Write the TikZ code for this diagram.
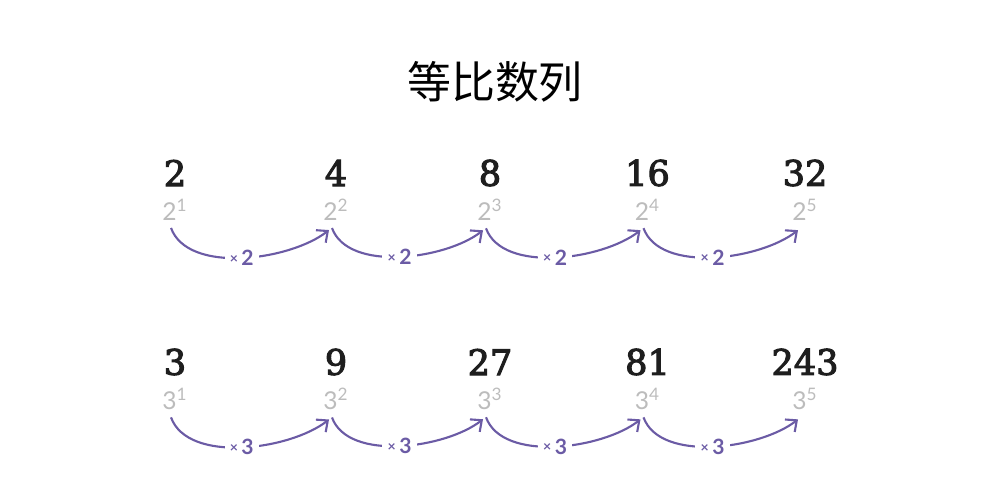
\documentclass[tikz,border=0pt]{standalone}
\usepackage{fontspec}
\setmainfont{Liberation Serif}
\setsansfont{Lato}
\newfontfamily\cjk{Noto Sans CJK SC}
\newfontfamily\numfont[FakeBold=3]{DejaVu Serif}
\usepackage{tikz}
\usetikzlibrary{positioning, arrows.meta}
\definecolor{numdark}{HTML}{1E1E1E}
\definecolor{expgray}{HTML}{BCBCBC}
\definecolor{hoppurple}{HTML}{6B5BA5}

\begin{document}
\begin{tikzpicture}[
  num/.style={inner sep=0pt, font=\numfont\fontsize{20}{24}\selectfont, text=numdark},
  expo/.style={inner sep=0pt, font=\sffamily\fontsize{14}{16}\selectfont, text=expgray},
  mult/.style={fill=white, inner sep=3pt, font=\sffamily\bfseries\fontsize{12}{14}\selectfont, text=hoppurple},
  hop/.style={-{Straight Barb[length=5pt, width=9pt]}, hoppurple, line width=1.2pt, looseness=0.8}
]
  \useasboundingbox (0,0) rectangle (19.86,9.68);

  \node[font=\cjk\fontsize{25}{28}\selectfont] (title) at (9.9,8.05) {等比数列};

  % powers of 2
  \node[num] (a1) at (3.5,6.22) {2};
  \node[num] (a2) at (6.72,6.22) {4};
  \node[num] (a3) at (9.8,6.22) {8};
  \node[num] (a4) at (12.95,6.22) {16};
  \node[num] (a5) at (16.1,6.22) {32};

  \node[expo, below=7pt of a1] (p1) {2\textsuperscript{1}};
  \node[expo, below=7pt of a2] (p2) {2\textsuperscript{2}};
  \node[expo, below=7pt of a3] (p3) {2\textsuperscript{3}};
  \node[expo, below=7pt of a4] (p4) {2\textsuperscript{4}};
  \node[expo, below=7pt of a5] (p5) {2\textsuperscript{5}};

  \draw[hop] ([xshift=-0.08cm, yshift=-0.14cm]p1.south) to[out=-70, in=-142] node[mult] {\raisebox{0.2ex}{\footnotesize×}\,2} ([xshift=-0.14cm, yshift=-0.18cm]p2.south);
  \draw[hop] ([xshift=-0.08cm, yshift=-0.14cm]p2.south) to[out=-70, in=-142] node[mult] {\raisebox{0.2ex}{\footnotesize×}\,2} ([xshift=-0.14cm, yshift=-0.18cm]p3.south);
  \draw[hop] ([xshift=-0.08cm, yshift=-0.14cm]p3.south) to[out=-70, in=-142] node[mult] {\raisebox{0.2ex}{\footnotesize×}\,2} ([xshift=-0.14cm, yshift=-0.18cm]p4.south);
  \draw[hop] ([xshift=-0.08cm, yshift=-0.14cm]p4.south) to[out=-70, in=-142] node[mult] {\raisebox{0.2ex}{\footnotesize×}\,2} ([xshift=-0.14cm, yshift=-0.18cm]p5.south);

  % powers of 3
  \node[num] (b1) at (3.5,2.44) {3};
  \node[num] (b2) at (6.72,2.44) {9};
  \node[num] (b3) at (9.8,2.44) {27};
  \node[num] (b4) at (12.95,2.44) {81};
  \node[num] (b5) at (16.1,2.44) {243};

  \node[expo, below=7pt of b1] (q1) {3\textsuperscript{1}};
  \node[expo, below=7pt of b2] (q2) {3\textsuperscript{2}};
  \node[expo, below=7pt of b3] (q3) {3\textsuperscript{3}};
  \node[expo, below=7pt of b4] (q4) {3\textsuperscript{4}};
  \node[expo, below=7pt of b5] (q5) {3\textsuperscript{5}};

  \draw[hop] ([xshift=-0.08cm, yshift=-0.14cm]q1.south) to[out=-70, in=-142] node[mult] {\raisebox{0.2ex}{\footnotesize×}\,3} ([xshift=-0.14cm, yshift=-0.18cm]q2.south);
  \draw[hop] ([xshift=-0.08cm, yshift=-0.14cm]q2.south) to[out=-70, in=-142] node[mult] {\raisebox{0.2ex}{\footnotesize×}\,3} ([xshift=-0.14cm, yshift=-0.18cm]q3.south);
  \draw[hop] ([xshift=-0.08cm, yshift=-0.14cm]q3.south) to[out=-70, in=-142] node[mult] {\raisebox{0.2ex}{\footnotesize×}\,3} ([xshift=-0.14cm, yshift=-0.18cm]q4.south);
  \draw[hop] ([xshift=-0.08cm, yshift=-0.14cm]q4.south) to[out=-70, in=-142] node[mult] {\raisebox{0.2ex}{\footnotesize×}\,3} ([xshift=-0.14cm, yshift=-0.18cm]q5.south);
\end{tikzpicture}
\end{document}
